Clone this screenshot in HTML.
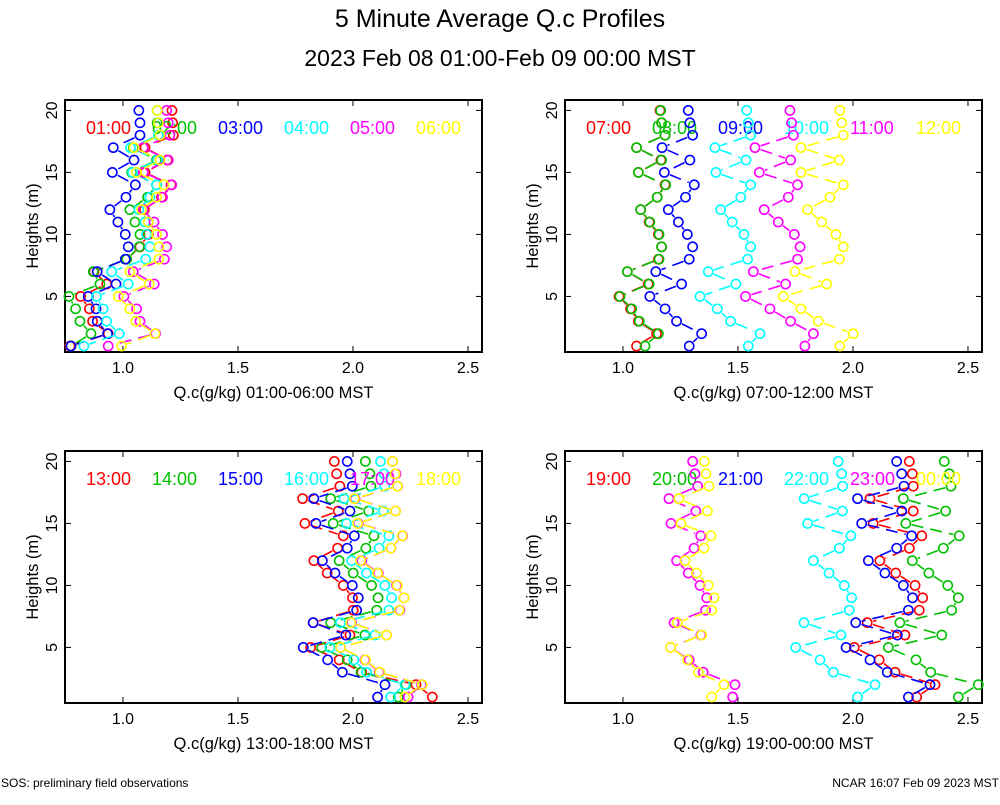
<!DOCTYPE html>
<html><head><meta charset="utf-8"><style>
html,body{margin:0;padding:0;background:#fff;}
svg text{font-family:"Liberation Sans",sans-serif;}
</style></head><body>
<svg id="chart" width="1000" height="800" viewBox="0 0 1000 800" xmlns="http://www.w3.org/2000/svg">
<text x="500" y="27" font-size="25" text-anchor="middle">5 Minute Average Q.c Profiles</text>
<text x="500" y="66" font-size="23" text-anchor="middle">2023 Feb 08 01:00-Feb 09 00:00 MST</text>
<text x="1" y="787" font-size="12">SOS: preliminary field observations</text>
<text x="999" y="787" font-size="12" text-anchor="end">NCAR 16:07 Feb 09 2023 MST</text>
</svg>
<script>
const heights = [20,19,18,17,16,15,14,13,12,11,10,9,8,7,6,5,4,3,2,1];
const colors = ["#ff0000","#00c000","#0000ff","#00ffff","#ff00ff","#ffff00"];
const xTicks = [1.0,1.5,2.0,2.5];
const xTickLabels = ["1.0","1.5","2.0","2.5"];
const yTicks = [5,10,15,20];
const panel1Labels = ["01:00","02:00","03:00","04:00","05:00","06:00"];
const panel2Labels = ["07:00","08:00","09:00","10:00","11:00","12:00"];
const panel3Labels = ["13:00","14:00","15:00","16:00","17:00","18:00"];
const panel4Labels = ["19:00","20:00","21:00","22:00","23:00","00:00"];
const p1s1 = [1.213,1.216,1.219,1.096,1.193,1.096,1.209,1.168,1.093,1.110,1.110,1.074,1.016,0.874,0.929,0.816,0.854,0.868,0.936,0.770];
const p1s2 = [1.149,1.149,1.161,1.045,1.146,1.038,1.146,1.107,1.030,1.052,1.074,1.071,1.016,0.871,0.900,0.765,0.794,0.813,0.861,0.774];
const p1s3 = [1.069,1.074,1.074,0.958,1.048,0.954,1.054,1.013,0.943,0.978,1.010,1.023,1.010,0.888,0.970,0.849,0.883,0.888,0.933,0.774];
const p1s4 = [1.149,1.154,1.154,1.033,1.151,1.042,1.146,1.117,1.069,1.096,1.103,1.117,1.099,0.951,1.023,0.885,0.914,0.929,0.984,0.830];
const p1s5 = [1.190,1.197,1.204,1.088,1.197,1.088,1.212,1.172,1.088,1.135,1.172,1.190,1.180,1.045,1.136,1.004,1.059,1.074,1.142,0.936];
const p1s6 = [1.149,1.154,1.161,1.048,1.161,1.059,1.178,1.146,1.081,1.110,1.146,1.156,1.156,1.030,1.114,0.980,1.030,1.056,1.139,0.994];
const p2s1 = [1.161,1.168,1.183,1.059,1.165,1.067,1.183,1.149,1.077,1.114,1.154,1.168,1.154,1.019,1.110,0.983,1.033,1.067,1.146,1.059];
const p2s2 = [1.164,1.168,1.183,1.059,1.168,1.067,1.186,1.149,1.077,1.117,1.157,1.168,1.157,1.019,1.114,0.987,1.038,1.071,1.154,1.096];
const p2s3 = [1.284,1.291,1.303,1.170,1.291,1.180,1.310,1.272,1.197,1.241,1.280,1.303,1.288,1.143,1.255,1.117,1.183,1.233,1.342,1.288];
const p2s4 = [1.538,1.545,1.555,1.400,1.535,1.404,1.555,1.512,1.425,1.475,1.526,1.555,1.542,1.371,1.491,1.335,1.410,1.468,1.596,1.545];
const p2s5 = [1.726,1.733,1.741,1.574,1.729,1.593,1.759,1.719,1.614,1.675,1.745,1.770,1.759,1.567,1.707,1.533,1.639,1.729,1.828,1.791];
const p2s6 = [1.943,1.951,1.958,1.774,1.941,1.774,1.958,1.900,1.803,1.864,1.926,1.958,1.941,1.748,1.886,1.697,1.774,1.849,2.001,1.943];
const p3s1 = [1.919,1.929,1.943,1.781,1.936,1.791,1.958,1.933,1.830,1.888,1.958,1.998,2.001,1.827,1.987,1.816,1.940,2.038,2.274,2.345];
const p3s2 = [2.054,2.074,2.078,1.903,2.068,1.914,2.091,2.056,1.940,2.001,2.081,2.109,2.103,1.903,2.052,1.864,1.975,2.035,2.230,2.197];
const p3s3 = [1.975,1.987,1.997,1.830,1.987,1.839,2.006,1.975,1.867,1.922,1.997,2.023,2.016,1.827,1.969,1.784,1.890,1.954,2.139,2.107];
const p3s4 = [2.120,2.135,2.139,1.961,2.132,1.972,2.156,2.114,1.994,2.059,2.139,2.168,2.156,1.946,2.096,1.900,2.004,2.059,2.226,2.164];
const p3s5 = [2.172,2.187,2.194,2.009,2.185,2.023,2.216,2.165,2.038,2.110,2.190,2.222,2.204,1.994,2.146,1.946,2.052,2.114,2.298,2.240];
const p3s6 = [2.172,2.183,2.193,2.006,2.185,2.020,2.214,2.164,2.033,2.107,2.193,2.222,2.201,1.991,2.146,1.946,2.055,2.117,2.301,2.226];
const p4s1 = [2.245,2.258,2.262,2.074,2.262,2.088,2.299,2.245,2.117,2.186,2.270,2.303,2.288,2.062,2.226,2.006,2.114,2.183,2.357,2.277];
const p4s2 = [2.397,2.419,2.426,2.219,2.403,2.230,2.462,2.393,2.258,2.330,2.412,2.458,2.429,2.204,2.386,2.154,2.274,2.338,2.545,2.458];
const p4s3 = [2.190,2.212,2.222,2.020,2.212,2.038,2.255,2.190,2.067,2.139,2.219,2.259,2.241,2.012,2.193,1.970,2.074,2.149,2.335,2.241];
const p4s4 = [1.936,1.951,1.955,1.788,1.954,1.803,1.991,1.941,1.828,1.896,1.962,1.994,1.984,1.787,1.948,1.751,1.857,1.915,2.096,2.020];
const p4s5 = [1.303,1.313,1.325,1.200,1.317,1.209,1.338,1.309,1.233,1.284,1.335,1.364,1.359,1.222,1.339,1.207,1.288,1.349,1.487,1.477];
const p4s6 = [1.354,1.361,1.374,1.243,1.367,1.252,1.383,1.352,1.270,1.320,1.371,1.396,1.386,1.236,1.342,1.207,1.281,1.328,1.439,1.386];

const NS = "http://www.w3.org/2000/svg";
const svg = document.getElementById("chart");
function mk(tag, attrs, parent){
  const e = document.createElementNS(NS, tag);
  for (const k in attrs) e.setAttribute(k, attrs[k]);
  (parent || svg).appendChild(e);
  return e;
}
const X0 = 0.748, X1 = 2.561, Y0 = 0.52, Y1 = 20.84;
function drawPanel(ox, oy, series, labels, title, pname){
  const L = 65 + ox, R = 482 + ox, T = 100 + oy, B = 352 + oy;
  const sx = v => L + (v - X0) / (X1 - X0) * (R - L);
  const sy = h => B - (h - Y0) / (Y1 - Y0) * (B - T);
  const g = mk("g", {});
  
  
  const frame = mk("rect", {x:L, y:T, width:R-L, height:B-T, fill:"none", stroke:"#000", "stroke-width":2}, g);
  
  
  xTicks.forEach((t, i) => {
    const x = sx(t);
    mk("line", {x1:x, y1:B, x2:x, y2:B-6, stroke:"#000"}, g);
    mk("line", {x1:x, y1:T, x2:x, y2:T+6, stroke:"#000"}, g);
    const tl = mk("text", {x:x, y:B+21, "font-size":16, "text-anchor":"middle"}, g);
    tl.textContent = xTickLabels[i];
    
    
  });
  yTicks.forEach(t => {
    const y = sy(t);
    mk("line", {x1:L, y1:y, x2:L+6, y2:y, stroke:"#000"}, g);
    mk("line", {x1:R, y1:y, x2:R-6, y2:y, stroke:"#000"}, g);
    const tl = mk("text", {x:L-8, y:y, "font-size":16, "text-anchor":"middle", transform:`rotate(-90 ${L-8} ${y})`}, g);
    tl.textContent = String(t);
    
    
  });
  const yt = mk("text", {x:0, y:0, "font-size":16.5, "text-anchor":"middle", transform:`translate(${ox+38} ${(T+B)/2}) rotate(-90)`}, g);
  yt.textContent = "Heights (m)";
  
  
  const xt = mk("text", {x:(L+R)/2, y:B+46, "font-size":16.5, "text-anchor":"middle"}, g);
  xt.textContent = title;
  
  
  series.forEach((vals, si) => {
    const col = colors[si];
    for (let i = 0; i < vals.length - 1; i++){
      const x1 = sx(vals[i]), y1 = sy(heights[i]), x2 = sx(vals[i+1]), y2 = sy(heights[i+1]);
      const dx = x2-x1, dy = y2-y1, d = Math.hypot(dx, dy);
      if (d < 14) continue;
      const ux = dx/d, uy = dy/d, r = 6;
      const seg = mk("line", {x1:x1+ux*r, y1:y1+uy*r, x2:x2-ux*r, y2:y2-uy*r, stroke:col, "stroke-width":1.6, "stroke-dasharray":"12 7"}, g);
      
      
    }
    vals.forEach((v, i) => {
      const c = mk("circle", {cx:sx(v), cy:sy(heights[i]), r:4.6, fill:"none", stroke:col, "stroke-width":1.6}, g);
      
      
    });
    const lg = mk("text", {x:L+21+si*66, y:T+34, "font-size":18, fill:col}, g);
    lg.textContent = labels[si];
    
    
  });
}
drawPanel(0, 0, [p1s1,p1s2,p1s3,p1s4,p1s5,p1s6], panel1Labels, "Q.c(g/kg) 01:00-06:00 MST", "panel-01-06");
drawPanel(500, 0, [p2s1,p2s2,p2s3,p2s4,p2s5,p2s6], panel2Labels, "Q.c(g/kg) 07:00-12:00 MST", "panel-07-12");
drawPanel(0, 351, [p3s1,p3s2,p3s3,p3s4,p3s5,p3s6], panel3Labels, "Q.c(g/kg) 13:00-18:00 MST", "panel-13-18");
drawPanel(500, 351, [p4s1,p4s2,p4s3,p4s4,p4s5,p4s6], panel4Labels, "Q.c(g/kg) 19:00-00:00 MST", "panel-19-00");
</script>
</body></html>
